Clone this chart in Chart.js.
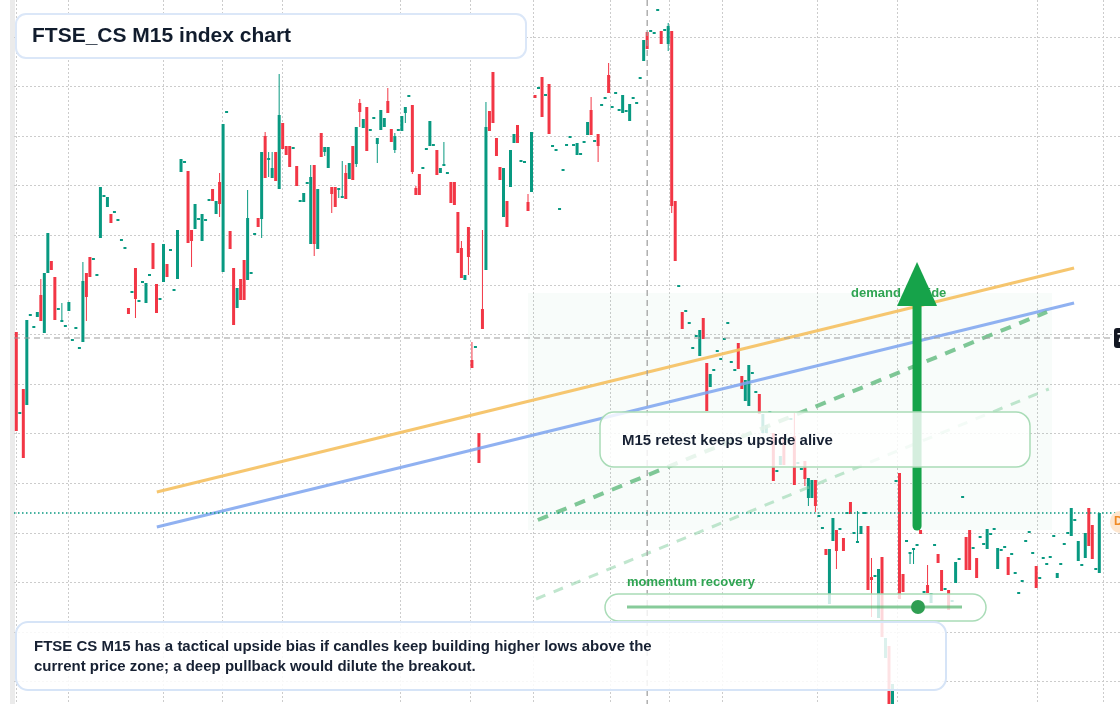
<!DOCTYPE html>
<html>
<head>
<meta charset="utf-8">
<title>FTSE_CS M15 index chart</title>
<script src="https://cdn.jsdelivr.net/npm/chart.js@4.4.1/dist/chart.umd.min.js"></script>
<style>
html, body { margin: 0; padding: 0; background: #fff; overflow: hidden; }
#wrap { width: 1120px; height: 704px; }
</style>
</head>
<body>
<div id="wrap"><canvas id="chart" width="1120" height="704"></canvas></div>
<script>
// M15 candles (oldest first)
const opens = [
  7726.8, 7718.6, 7721.1, 7719.5, 7728.4, 7727.2, 7728.3, 7730.5, 7726.7, 7732.7,
  7733.9, 7732.3, 7729.0, 7727.8, 7727.3, 7728.9, 7725.9, 7727.1, 7725.1, 7725.8,
  7732.7, 7734.3, 7734.0, 7732.4, 7736.2, 7740.3, 7739.3, 7738.6, 7738.7, 7737.9,
  7735.9, 7735.1, 7729.2, 7730.7, 7733.2, 7729.8, 7731.7, 7729.7, 7732.4, 7735.7,
  7731.6, 7730.0, 7731.8, 7733.6, 7734.9, 7730.9, 7732.1, 7742.8, 7743.7, 7742.9,
  7737.0, 7737.1, 7738.0, 7735.9, 7737.9, 7739.9, 7741.1, 7738.6, 7741.8, 7732.8,
  7748.7, 7736.9, 7733.2, 7729.2, 7732.1, 7734.0, 7732.0, 7732.6, 7736.5, 7738.2,
  7738.1, 7746.4, 7744.0, 7742.2, 7744.8, 7741.1, 7747.7, 7745.4, 7745.4, 7745.1,
  7743.4, 7739.8, 7739.8, 7741.6, 7735.6, 7743.5, 7735.1, 7746.7, 7744.8, 7743.2,
  7741.3, 7741.3, 7741.0, 7740.2, 7742.7, 7742.1, 7745.4, 7743.6, 7749.7, 7747.2,
  7749.3, 7746.9, 7748.1, 7745.6, 7747.0, 7747.3, 7749.9, 7747.1, 7745.0, 7746.9,
  7746.9, 7748.7, 7750.3, 7749.5, 7741.2, 7742.6, 7743.1, 7745.0, 7745.4, 7745.4,
  7745.0, 7742.7, 7743.4, 7742.6, 7741.8, 7741.8, 7738.8, 7735.2, 7732.0, 7737.3,
  7724.0, 7725.2, 7716.7, 7729.1, 7733.0, 7748.9, 7752.8, 7746.2, 7743.3, 7738.3,
  7739.9, 7741.3, 7745.7, 7747.5, 7743.8, 7743.7, 7739.8, 7740.8, 7750.5, 7751.1,
  7752.3, 7750.4, 7751.6, 7745.3, 7744.9, 7739.0, 7742.9, 7745.4, 7746.2, 7745.4,
  7744.5, 7744.5, 7745.7, 7746.5, 7749.0, 7745.8, 7746.6, 7749.4, 7750.1, 7752.5,
  7749.2, 7750.6, 7748.9, 7748.7, 7748.8, 7747.9, 7750.1, 7749.6, 7752.1, 7753.9,
  7756.8, 7756.8, 7756.6, 7758.9, 7756.9, 7756.9, 7755.6, 7756.9, 7739.9, 7731.3,
  7728.8, 7728.8, 7727.6, 7725.1, 7726.3, 7724.4, 7728.2, 7723.7, 7721.3, 7722.9,
  7724.8, 7724.0, 7726.0, 7727.6, 7723.7, 7722.9, 7725.7, 7722.4, 7719.9, 7719.4,
  7722.6, 7720.7, 7720.6, 7716.7, 7716.7, 7718.7, 7716.7, 7712.8, 7713.5, 7716.3,
  7716.0, 7718.0, 7716.4, 7713.6, 7713.0, 7713.9, 7710.2, 7710.2, 7712.0, 7708.3,
  7707.1, 7705.1, 7699.6, 7705.9, 7707.0, 7707.0, 7706.2, 7708.6, 7709.8, 7706.6,
  7705.7, 7706.6, 7708.6, 7707.4, 7702.3, 7702.3, 7698.2, 7704.3, 7694.2, 7695.4,
  7688.8, 7711.8, 7712.7, 7702.6, 7705.8, 7704.6, 7705.0, 7705.4, 7707.0, 7700.7,
  7701.5, 7699.7, 7705.4, 7704.6, 7703.0, 7701.0, 7701.0, 7699.8, 7701.7, 7704.0,
  7710.2, 7706.3, 7707.0, 7705.1, 7704.2, 7706.2, 7705.5, 7705.1, 7706.5, 7707.0,
  7703.1, 7704.9, 7705.2, 7704.3, 7704.5, 7702.6, 7700.6, 7701.8, 7705.8, 7706.7,
  7704.6, 7703.4, 7702.1, 7704.1, 7703.5, 7704.2, 7706.3, 7702.2, 7703.5, 7705.5,
  7706.6, 7706.4, 7707.9, 7703.9, 7703.4, 7704.2, 7709.2, 7707.5, 7703.0, 7702.7
]
const highs = [
  7726.8, 7718.6, 7721.1, 7728.0, 7728.4, 7727.2, 7728.8, 7732.1, 7732.7, 7736.7,
  7733.9, 7732.3, 7729.0, 7729.7, 7727.3, 7729.8, 7725.9, 7727.1, 7725.1, 7733.8,
  7732.7, 7734.3, 7734.0, 7732.4, 7741.3, 7740.3, 7740.3, 7738.6, 7738.7, 7737.9,
  7735.9, 7735.1, 7729.2, 7730.7, 7733.2, 7729.8, 7731.7, 7731.7, 7732.4, 7735.7,
  7731.6, 7730.0, 7735.6, 7733.6, 7734.9, 7730.9, 7737.0, 7744.1, 7743.7, 7742.9,
  7737.0, 7739.6, 7738.0, 7738.6, 7737.9, 7739.9, 7741.1, 7739.9, 7742.7, 7747.6,
  7748.7, 7736.9, 7733.2, 7731.2, 7732.1, 7734.0, 7741.0, 7732.6, 7736.5, 7738.2,
  7744.8, 7746.8, 7744.8, 7744.8, 7744.8, 7752.6, 7747.7, 7745.4, 7745.4, 7745.1,
  7743.4, 7739.8, 7740.7, 7741.6, 7743.5, 7743.5, 7741.1, 7746.7, 7745.3, 7745.3,
  7741.3, 7741.3, 7741.0, 7743.9, 7743.5, 7743.7, 7745.4, 7747.3, 7750.1, 7748.1,
  7749.3, 7746.9, 7748.1, 7746.2, 7749.0, 7748.2, 7751.2, 7747.1, 7746.7, 7746.9,
  7748.4, 7749.3, 7750.3, 7749.5, 7741.4, 7742.6, 7743.1, 7745.0, 7747.9, 7745.4,
  7745.0, 7743.2, 7745.8, 7742.6, 7741.8, 7741.8, 7738.8, 7735.9, 7732.5, 7737.3,
  7725.8, 7725.2, 7716.7, 7737.0, 7749.8, 7748.9, 7752.8, 7746.2, 7743.3, 7743.2,
  7739.9, 7745.0, 7746.6, 7747.5, 7743.8, 7743.7, 7740.6, 7746.8, 7750.5, 7751.1,
  7752.3, 7750.4, 7751.6, 7745.3, 7744.9, 7739.0, 7742.9, 7745.4, 7746.2, 7745.4,
  7745.7, 7744.5, 7745.7, 7747.8, 7750.3, 7745.8, 7746.6, 7749.4, 7750.1, 7753.7,
  7749.2, 7750.6, 7748.9, 7750.5, 7748.8, 7749.6, 7750.1, 7749.6, 7752.1, 7756.0,
  7756.8, 7756.8, 7756.6, 7758.9, 7756.9, 7756.9, 7757.7, 7756.9, 7739.9, 7731.3,
  7728.8, 7728.8, 7727.6, 7725.1, 7726.3, 7727.0, 7728.2, 7723.7, 7722.6, 7722.9,
  7724.8, 7724.0, 7726.0, 7727.6, 7723.7, 7722.9, 7725.7, 7722.4, 7722.0, 7723.5,
  7722.6, 7720.7, 7720.6, 7718.6, 7717.5, 7718.7, 7716.7, 7712.8, 7714.4, 7716.3,
  7716.0, 7718.0, 7718.7, 7713.6, 7713.0, 7713.9, 7712.2, 7712.0, 7712.0, 7708.3,
  7707.1, 7705.1, 7705.1, 7708.2, 7707.0, 7707.0, 7706.2, 7708.6, 7709.8, 7706.6,
  7708.9, 7707.4, 7708.6, 7707.4, 7704.2, 7702.3, 7703.1, 7704.3, 7696.2, 7695.4,
  7691.6, 7711.8, 7712.7, 7702.6, 7705.8, 7704.6, 7705.0, 7705.4, 7707.0, 7700.7,
  7703.5, 7700.7, 7705.4, 7704.6, 7703.0, 7701.0, 7701.0, 7699.8, 7703.8, 7704.0,
  7710.2, 7706.3, 7707.0, 7705.1, 7704.2, 7706.2, 7705.5, 7707.1, 7706.5, 7707.0,
  7705.2, 7704.9, 7705.2, 7704.3, 7704.5, 7702.6, 7700.6, 7701.8, 7705.8, 7706.7,
  7704.6, 7703.4, 7702.1, 7704.1, 7703.5, 7704.2, 7706.3, 7702.7, 7703.5, 7705.5,
  7706.6, 7709.2, 7707.9, 7705.9, 7703.4, 7706.7, 7709.2, 7707.5, 7703.0, 7708.7
]
const lows = [
  7716.9, 7718.6, 7714.2, 7719.5, 7728.4, 7727.2, 7728.3, 7727.9, 7726.7, 7732.7,
  7733.0, 7728.0, 7729.0, 7727.8, 7727.3, 7728.9, 7725.9, 7727.1, 7725.1, 7725.8,
  7727.9, 7732.3, 7734.0, 7732.4, 7736.2, 7740.3, 7739.3, 7737.7, 7738.7, 7737.9,
  7735.9, 7735.1, 7728.6, 7730.7, 7728.2, 7729.8, 7731.7, 7729.7, 7732.4, 7733.1,
  7728.7, 7730.0, 7731.8, 7732.3, 7734.9, 7730.9, 7732.1, 7742.8, 7743.7, 7735.7,
  7733.3, 7737.1, 7738.0, 7735.9, 7737.9, 7739.9, 7739.9, 7738.6, 7738.3, 7732.8,
  7748.7, 7735.1, 7727.5, 7729.2, 7730.0, 7730.0, 7732.0, 7732.6, 7736.5, 7737.3,
  7736.2, 7742.2, 7742.3, 7742.2, 7741.9, 7741.1, 7745.1, 7744.5, 7743.3, 7745.1,
  7741.4, 7739.8, 7739.8, 7741.6, 7735.6, 7734.4, 7735.1, 7744.3, 7744.4, 7743.2,
  7738.7, 7739.3, 7740.2, 7740.2, 7740.1, 7742.1, 7742.0, 7743.3, 7747.3, 7747.2,
  7744.9, 7746.9, 7748.1, 7743.7, 7747.0, 7747.3, 7748.7, 7745.8, 7744.7, 7746.9,
  7746.9, 7747.7, 7750.3, 7742.6, 7740.5, 7740.5, 7743.1, 7745.0, 7745.4, 7745.4,
  7742.5, 7742.7, 7743.4, 7742.6, 7739.7, 7739.5, 7734.7, 7732.2, 7732.0, 7732.5,
  7723.2, 7725.2, 7713.7, 7727.1, 7733.0, 7746.9, 7747.7, 7744.4, 7742.0, 7738.3,
  7737.3, 7741.3, 7745.7, 7745.7, 7743.8, 7743.7, 7738.9, 7740.8, 7750.2, 7751.1,
  7748.3, 7750.4, 7746.6, 7745.3, 7744.9, 7739.0, 7742.9, 7745.4, 7746.2, 7745.4,
  7744.5, 7744.5, 7745.7, 7746.5, 7746.5, 7745.8, 7743.8, 7749.4, 7750.1, 7750.7,
  7749.2, 7750.6, 7748.9, 7748.7, 7748.8, 7747.9, 7750.1, 7749.6, 7752.1, 7753.9,
  7755.1, 7756.8, 7756.6, 7758.9, 7755.6, 7756.9, 7754.9, 7738.7, 7733.9, 7731.3,
  7727.1, 7728.8, 7727.6, 7725.1, 7726.3, 7724.4, 7726.1, 7718.9, 7721.3, 7722.9,
  7724.8, 7724.0, 7726.0, 7727.6, 7723.7, 7722.9, 7723.1, 7721.1, 7719.9, 7719.4,
  7722.6, 7720.7, 7718.6, 7716.7, 7716.7, 7718.7, 7711.9, 7712.8, 7713.5, 7713.5,
  7716.0, 7718.0, 7711.5, 7713.6, 7713.0, 7711.4, 7709.4, 7710.2, 7708.8, 7708.3,
  7707.1, 7704.5, 7699.6, 7705.9, 7703.1, 7707.0, 7704.9, 7708.6, 7708.6, 7706.6,
  7705.7, 7706.6, 7708.6, 7701.0, 7698.3, 7702.3, 7698.2, 7696.3, 7694.2, 7688.8,
  7688.8, 7711.8, 7700.1, 7700.8, 7705.8, 7703.6, 7703.6, 7705.4, 7706.6, 7700.7,
  7700.7, 7699.7, 7705.4, 7703.7, 7700.9, 7701.0, 7699.0, 7699.8, 7701.7, 7704.0,
  7710.2, 7703.0, 7703.0, 7705.1, 7702.2, 7706.2, 7705.5, 7705.1, 7706.5, 7707.0,
  7703.1, 7704.9, 7705.2, 7702.5, 7704.5, 7702.6, 7700.6, 7701.8, 7705.8, 7706.7,
  7704.6, 7701.2, 7702.1, 7704.1, 7703.5, 7704.2, 7706.3, 7702.2, 7703.5, 7705.5,
  7706.6, 7706.4, 7707.9, 7703.9, 7703.4, 7704.2, 7705.4, 7704.1, 7703.0, 7702.7
]
const closes = [
  7716.9, 7718.6, 7714.2, 7728.0, 7728.4, 7727.2, 7728.8, 7727.9, 7732.7, 7736.7,
  7733.0, 7728.0, 7729.0, 7727.8, 7727.3, 7729.8, 7725.9, 7727.1, 7725.1, 7731.9,
  7730.3, 7732.3, 7734.0, 7732.4, 7741.3, 7740.3, 7740.3, 7737.7, 7738.7, 7737.9,
  7735.9, 7735.1, 7728.6, 7730.7, 7730.1, 7729.8, 7731.7, 7731.7, 7732.4, 7733.1,
  7728.7, 7730.0, 7735.6, 7732.3, 7734.9, 7730.9, 7737.0, 7744.1, 7743.7, 7735.7,
  7735.9, 7739.6, 7738.0, 7738.6, 7737.9, 7739.9, 7739.9, 7739.9, 7739.6, 7747.6,
  7748.7, 7735.1, 7727.5, 7731.2, 7730.0, 7730.0, 7738.2, 7732.6, 7736.5, 7737.3,
  7744.8, 7742.2, 7744.0, 7743.2, 7741.9, 7748.5, 7745.1, 7744.5, 7743.3, 7745.1,
  7741.4, 7739.8, 7740.7, 7741.6, 7742.3, 7735.6, 7741.1, 7744.3, 7745.3, 7745.3,
  7740.6, 7739.3, 7741.0, 7740.2, 7740.1, 7743.7, 7742.0, 7747.3, 7748.8, 7748.1,
  7744.9, 7746.9, 7748.1, 7746.2, 7749.0, 7748.2, 7748.7, 7745.8, 7746.4, 7746.9,
  7748.4, 7749.3, 7750.3, 7742.8, 7740.5, 7740.5, 7743.1, 7745.0, 7747.9, 7745.4,
  7742.5, 7743.2, 7743.4, 7742.6, 7739.7, 7739.5, 7734.7, 7732.2, 7732.5, 7734.3,
  7723.2, 7725.2, 7713.7, 7727.1, 7747.3, 7746.9, 7747.7, 7744.4, 7742.0, 7743.2,
  7737.3, 7745.0, 7746.6, 7745.7, 7743.8, 7743.7, 7738.9, 7746.8, 7750.2, 7751.1,
  7748.3, 7750.4, 7746.6, 7745.3, 7744.9, 7739.0, 7742.9, 7745.4, 7746.2, 7745.4,
  7745.7, 7744.5, 7745.7, 7747.8, 7746.5, 7745.8, 7745.4, 7749.4, 7750.1, 7750.7,
  7749.2, 7750.6, 7748.9, 7750.5, 7748.8, 7749.6, 7750.1, 7749.6, 7752.1, 7756.0,
  7755.1, 7756.8, 7756.6, 7758.9, 7755.6, 7756.9, 7757.4, 7739.4, 7733.9, 7731.3,
  7727.1, 7728.8, 7727.6, 7725.1, 7726.3, 7727.0, 7726.1, 7718.9, 7722.6, 7722.9,
  7724.8, 7724.0, 7726.0, 7727.6, 7723.7, 7722.9, 7723.1, 7721.1, 7722.0, 7723.5,
  7722.6, 7720.7, 7718.6, 7718.6, 7717.5, 7718.7, 7711.9, 7712.8, 7714.4, 7713.5,
  7716.0, 7718.0, 7711.5, 7713.6, 7713.0, 7712.1, 7712.2, 7712.0, 7709.4, 7708.3,
  7707.1, 7704.5, 7705.1, 7708.2, 7704.9, 7707.0, 7704.9, 7708.6, 7708.6, 7706.6,
  7705.7, 7707.4, 7708.6, 7701.0, 7702.0, 7702.3, 7703.1, 7696.3, 7696.2, 7688.8,
  7691.6, 7711.8, 7700.1, 7700.8, 7705.8, 7704.6, 7705.0, 7705.4, 7706.6, 7700.7,
  7700.7, 7700.7, 7705.4, 7703.7, 7700.9, 7701.0, 7699.0, 7699.8, 7703.8, 7704.0,
  7710.2, 7703.0, 7703.0, 7705.1, 7702.2, 7706.2, 7705.5, 7707.1, 7706.5, 7707.0,
  7705.2, 7704.9, 7705.2, 7702.5, 7704.5, 7702.6, 7700.6, 7701.8, 7705.8, 7706.7,
  7704.6, 7701.2, 7702.1, 7704.1, 7703.5, 7704.2, 7706.3, 7702.7, 7703.5, 7705.5,
  7706.6, 7709.2, 7707.9, 7705.9, 7703.4, 7706.7, 7705.4, 7704.1, 7703.0, 7708.7
]

// grid positions (bar index / price), tick labels are cut off in the picture
const xTicks = [0, 14.75, 41.9, 58.7, 75.8, 109.5, 129.5, 147.4, 169.4, 186.2, 201.4, 228.5, 251.3, 291.2, 310.1]
const yTicks = [7756.3, 7751.4, 7746.4, 7741.5, 7736.5, 7731.5, 7726.6, 7721.6, 7716.7, 7711.7, 7706.7, 7701.8, 7696.8, 7691.9]

const UP = '#089981'
const DOWN = '#f23645'
const FONT = '"Liberation Sans", Arial, sans-serif'

const n = opens.length
const barStep = (1099.3 - 16.3) / (n - 1)   // px per bar
const xMin = -(16.3 - 14) / barStep
const xMax = xMin + 1106 / barStep

const colors = opens.map((o, i) => closes[i] >= o ? UP : DOWN)
const bodies = opens.map((o, i) => ({ x: i, y: [o, closes[i]] }))
const wicks = lows.map((l, i) => ({ x: i, y: [l, highs[i]] }))

const lastPrice = closes[n - 1]
const crossIdx = 180
const crossPrice = 7726.2

function rr(ctx, x, y, w, h, r) {
    ctx.beginPath()
    ctx.moveTo(x + r, y)
    ctx.arcTo(x + w, y, x + w, y + h, r)
    ctx.arcTo(x + w, y + h, x, y + h, r)
    ctx.arcTo(x, y + h, x, y, r)
    ctx.arcTo(x, y, x + w, y, r)
    ctx.closePath()
}

function seg(chart, a, b, color, width, dash) {
    const { x, y } = chart.scales
    const ctx = chart.ctx
    ctx.save()
    ctx.strokeStyle = color
    ctx.lineWidth = width
    ctx.setLineDash(dash || [])
    ctx.beginPath()
    ctx.moveTo(x.getPixelForValue(a[0]), y.getPixelForValue(a[1]))
    ctx.lineTo(x.getPixelForValue(b[0]), y.getPixelForValue(b[1]))
    ctx.stroke()
    ctx.restore()
}

const overlays = {
    id: 'overlays',
    beforeDraw(chart) {
        const ctx = chart.ctx
        ctx.save()
        ctx.fillStyle = '#ffffff'
        ctx.fillRect(0, 0, chart.width, chart.height)
        ctx.fillStyle = '#ebebeb'
        ctx.fillRect(10, 0, 5, chart.height)
        ctx.restore()
    },
    beforeDatasetsDraw(chart) {
        const { x, y } = chart.scales
        const ctx = chart.ctx
        const area = chart.chartArea
        ctx.save()
        // dotted grid, pixel aligned
        ctx.strokeStyle = '#cccccc'
        ctx.lineWidth = 1
        ctx.setLineDash([2, 2])
        ctx.beginPath()
        xTicks.forEach(v => {
            const px = Math.round(x.getPixelForValue(v)) + 0.5
            ctx.moveTo(px, area.top); ctx.lineTo(px, area.bottom)
        })
        yTicks.forEach(v => {
            const py = Math.round(y.getPixelForValue(v)) + 0.5
            ctx.moveTo(area.left, py); ctx.lineTo(area.right, py)
        })
        ctx.stroke()
        // demand zone
        const x0 = x.getPixelForValue(146), x1 = x.getPixelForValue(295.5)
        const y0 = y.getPixelForValue(7730.7), y1 = y.getPixelForValue(7707.0)
        ctx.fillStyle = 'rgba(46, 170, 90, 0.03)'
        ctx.fillRect(x0, y0, x1 - x0, y1 - y0)
        ctx.restore()
    },
    afterDatasetsDraw(chart) {
        const { x, y } = chart.scales
        const ctx = chart.ctx
        const area = chart.chartArea

        // trend lines
        seg(chart, [40.1, 7710.8], [301.8, 7733.2], 'rgba(245, 192, 95, 0.9)', 3)
        seg(chart, [40.1, 7707.3], [301.8, 7729.7], 'rgba(125, 163, 238, 0.85)', 3)
        seg(chart, [148.8, 7708.0], [294.1, 7728.8], 'rgba(95, 185, 125, 0.8)', 4, [11, 9])
        seg(chart, [148.3, 7700.1], [294.6, 7721.1], 'rgba(140, 210, 165, 0.55)', 3, [10, 9])

        // crosshair
        ctx.save()
        ctx.strokeStyle = '#9b9b9b'
        ctx.lineWidth = 1.2
        ctx.setLineDash([6, 4])
        const cx = x.getPixelForValue(crossIdx), cy = y.getPixelForValue(crossPrice)
        ctx.beginPath()
        ctx.moveTo(cx, area.top); ctx.lineTo(cx, area.bottom)
        ctx.moveTo(area.left, cy); ctx.lineTo(area.right, cy)
        ctx.stroke()
        // last price line
        const ly = y.getPixelForValue(lastPrice)
        ctx.strokeStyle = UP
        ctx.lineWidth = 1.3
        ctx.setLineDash([1.5, 2.5])
        ctx.beginPath()
        ctx.moveTo(area.left, ly); ctx.lineTo(area.right, ly)
        ctx.stroke()
        ctx.restore()

        // zone label (partly under the arrow head)
        ctx.save()
        ctx.font = 'bold 13px ' + FONT
        ctx.fillStyle = '#2fa452'
        ctx.textBaseline = 'middle'
        ctx.fillText('demand upside', 851, y.getPixelForValue(7730.7))
        ctx.restore()

        // arrow
        const ax = x.getPixelForValue(257)
        const aBot = y.getPixelForValue(7707.0), aTip = y.getPixelForValue(7733.8)
        ctx.save()
        ctx.fillStyle = '#16a34a'
        ctx.strokeStyle = '#16a34a'
        ctx.lineWidth = 9
        ctx.lineCap = 'round'
        ctx.beginPath()
        ctx.moveTo(ax, aBot - 4); ctx.lineTo(ax, aTip + 40)
        ctx.stroke()
        ctx.beginPath()
        ctx.moveTo(ax, aTip)
        ctx.lineTo(ax + 20, aTip + 44)
        ctx.lineTo(ax - 20, aTip + 44)
        ctx.closePath()
        ctx.fill()
        ctx.restore()

        // callout
        ctx.save()
        rr(ctx, 600, 412, 430, 55, 14)
        ctx.fillStyle = 'rgba(255,255,255,0.82)'
        ctx.fill()
        ctx.strokeStyle = '#a9dcb7'
        ctx.lineWidth = 1.5
        ctx.stroke()
        ctx.font = 'bold 15px ' + FONT
        ctx.fillStyle = '#172133'
        ctx.textBaseline = 'middle'
        ctx.fillText('M15 retest keeps upside alive', 622, 441)

        // momentum pill
        ctx.font = 'bold 13px ' + FONT
        ctx.fillStyle = '#2fa452'
        ctx.fillText('momentum recovery', 627, 582)
        rr(ctx, 605, 594, 381, 27, 13.5)
        ctx.fillStyle = 'rgba(255,255,255,0.8)'
        ctx.fill()
        ctx.strokeStyle = '#a9dcb7'
        ctx.stroke()
        ctx.strokeStyle = 'rgba(70, 175, 100, 0.65)'
        ctx.lineWidth = 3
        ctx.beginPath()
        ctx.moveTo(627, 607); ctx.lineTo(962, 607)
        ctx.stroke()
        ctx.fillStyle = '#2f9e52'
        ctx.beginPath()
        ctx.arc(918, 607, 7, 0, Math.PI * 2)
        ctx.fill()

        // note box
        rr(ctx, 16, 622, 930, 68, 12)
        ctx.fillStyle = 'rgba(255,255,255,0.86)'
        ctx.fill()
        ctx.strokeStyle = '#d6e4f7'
        ctx.lineWidth = 2
        ctx.stroke()
        ctx.font = 'bold 15px ' + FONT
        ctx.fillStyle = '#172133'
        ctx.fillText('FTSE CS M15 has a tactical upside bias if candles keep building higher lows above the', 34, 647)
        ctx.fillText('current price zone; a deep pullback would dilute the breakout.', 34, 667)

        // title box
        rr(ctx, 16, 14, 510, 44, 10)
        ctx.fillStyle = '#ffffff'
        ctx.fill()
        ctx.strokeStyle = '#dbe7f8'
        ctx.lineWidth = 2
        ctx.stroke()
        ctx.font = 'bold 21px ' + FONT
        ctx.fillStyle = '#111c2d'
        ctx.fillText('FTSE_CS M15 index chart', 32, 36.5)

        // right edge price labels (cut off)
        rr(ctx, 1114, cy - 10, 44, 20, 3)
        ctx.fillStyle = '#131722'
        ctx.fill()
        ctx.font = 'bold 12px ' + FONT
        ctx.fillStyle = '#ffffff'
        ctx.fillText(crossPrice.toFixed(1), 1117, cy + 1)
        rr(ctx, 1110, ly - 2, 44, 22, 10)
        ctx.fillStyle = '#fde6cf'
        ctx.fill()
        ctx.fillStyle = '#f08a24'
        ctx.fillText('D', 1114, ly + 9)
        ctx.restore()
    }
}

new Chart(document.getElementById('chart'), {
    type: 'bar',
    data: {
        datasets: [{
            label: 'wick',
            data: wicks,
            backgroundColor: colors,
            barThickness: 1,
            inflateAmount: 0,
            grouped: false,
            order: 2
        }, {
            label: 'body',
            data: bodies,
            backgroundColor: colors,
            barThickness: 3,
            minBarLength: 2,
            inflateAmount: 0,
            grouped: false,
            order: 1
        }]
    },
    options: {
        responsive: false,
        devicePixelRatio: 1,
        animation: false,
        layout: { padding: { left: 14, right: 0, top: 0, bottom: 0 } },
        scales: {
            x: {
                type: 'linear',
                min: xMin,
                max: xMax,
                offset: false,
                afterFit: s => { s.height = 0 },
                ticks: { display: false },
                grid: { display: false },
                border: { display: false }
            },
            y: {
                min: 7689.6,
                max: 7760,
                afterFit: s => { s.width = 0 },
                ticks: { display: false },
                grid: { display: false },
                border: { display: false }
            }
        },
        plugins: {
            legend: { display: false },
            tooltip: { enabled: false }
        }
    },
    plugins: [overlays]
})
</script>
</body>
</html>
